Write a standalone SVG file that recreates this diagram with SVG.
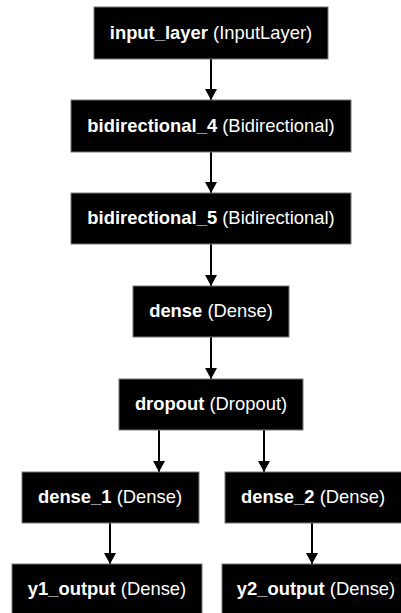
<svg xmlns="http://www.w3.org/2000/svg" width="401" height="613" viewBox="0 0 401 613">
  <style>
    .box { fill: #000; stroke: #777; stroke-width: 1; }
    .lbl { font-family: "Liberation Sans", Arial, sans-serif; font-size: 18.4px; fill: #fff; text-anchor: middle; }
    .name { font-weight: bold; }
    .edge { stroke: #000; stroke-width: 2; fill: none; marker-end: url(#arrow); }
  </style>
  <defs>
    <marker id="arrow" markerWidth="11" markerHeight="12" refX="11" refY="6" orient="auto" markerUnits="userSpaceOnUse">
      <path d="M0,0 L11,6 L0,12 Z" fill="#000"/>
    </marker>
  </defs>
  <rect width="401" height="613" fill="#fff"/>

  <g id="connectors">
    <line class="edge" x1="211" y1="59" x2="211" y2="100"/>
    <line class="edge" x1="211" y1="152" x2="211" y2="193"/>
    <line class="edge" x1="211" y1="244" x2="211" y2="286"/>
    <line class="edge" x1="211" y1="337" x2="211" y2="379"/>
    <line class="edge" x1="159" y1="430" x2="159" y2="472"/>
    <line class="edge" x1="264" y1="430" x2="264" y2="472"/>
    <line class="edge" x1="110" y1="523" x2="110" y2="564"/>
    <line class="edge" x1="312" y1="523" x2="312" y2="564"/>
  </g>

  <g id="input_layer">
    <rect class="box" x="94" y="7" width="234" height="52"/>
    <text class="lbl" x="211" y="39"><tspan class="name">input_layer</tspan> (InputLayer)</text>
  </g>
  <g id="bidirectional_4">
    <rect class="box" x="71" y="100" width="280" height="52"/>
    <text class="lbl" x="211" y="132"><tspan class="name">bidirectional_4</tspan> (Bidirectional)</text>
  </g>
  <g id="bidirectional_5">
    <rect class="box" x="71" y="193" width="280" height="51"/>
    <text class="lbl" x="211" y="224"><tspan class="name">bidirectional_5</tspan> (Bidirectional)</text>
  </g>
  <g id="dense">
    <rect class="box" x="133" y="286" width="156" height="51"/>
    <text class="lbl" x="211" y="317"><tspan class="name">dense</tspan> (Dense)</text>
  </g>
  <g id="dropout">
    <rect class="box" x="119" y="379" width="184" height="51"/>
    <text class="lbl" x="211" y="410"><tspan class="name">dropout</tspan> (Dropout)</text>
  </g>
  <g id="dense_1">
    <rect class="box" x="22" y="472" width="177" height="51"/>
    <text class="lbl" x="110" y="503"><tspan class="name">dense_1</tspan> (Dense)</text>
  </g>
  <g id="dense_2">
    <rect class="box" x="225" y="472" width="177" height="51"/>
    <text class="lbl" x="313" y="503"><tspan class="name">dense_2</tspan> (Dense)</text>
  </g>
  <g id="y1_output">
    <rect class="box" x="12" y="564" width="190" height="52"/>
    <text class="lbl" x="107" y="595"><tspan class="name">y1_output</tspan> (Dense)</text>
  </g>
  <g id="y2_output">
    <rect class="box" x="222" y="564" width="182" height="52"/>
    <text class="lbl" x="316" y="595"><tspan class="name">y2_output</tspan> (Dense)</text>
  </g>
</svg>
